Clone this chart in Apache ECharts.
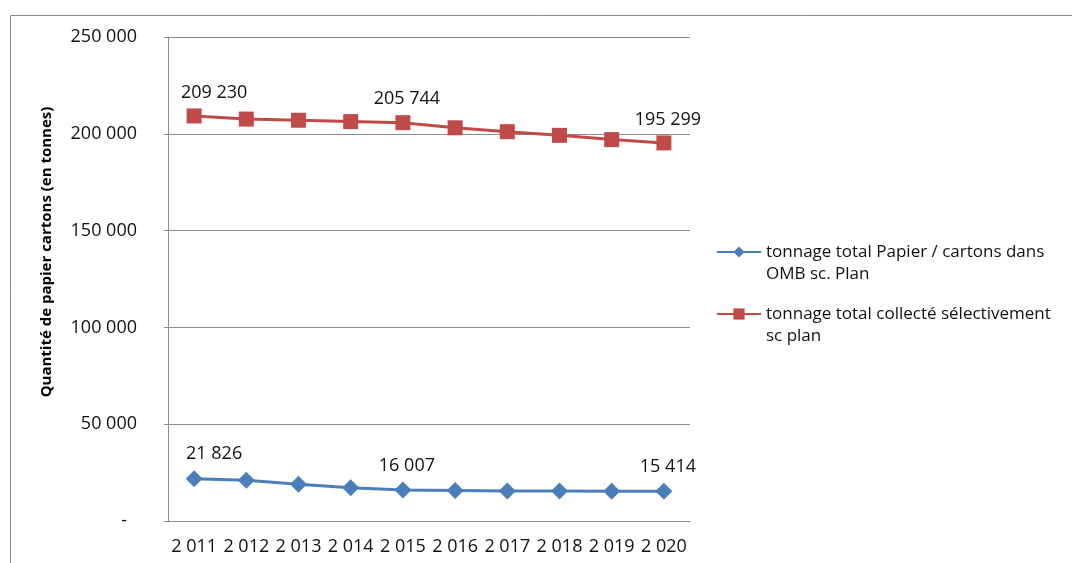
<!DOCTYPE html>
<html>
<head>
<meta charset="utf-8">
<script src="https://cdn.jsdelivr.net/npm/echarts@6/dist/echarts.min.js"></script>
<style>
  html, body { margin: 0; padding: 0; background: #fff; }
  #chart { width: 1072px; height: 563px; }
</style>
</head>
<body>
<div id="chart"></div>
<script>
// Years on the category axis (written with a thousands space, as in the source table)
const years = ['2 011', '2 012', '2 013', '2 014', '2 015', '2 016', '2 017', '2 018', '2 019', '2 020'];

// Paper / cardboard tonnage left in household waste (OMB)
const ombTonnage = [21826, 21100, 19000, 17200, 16007, 15800, 15500, 15450, 15430, 15414];

// Paper / cardboard tonnage collected selectively
const selectiveTonnage = [209230, 207600, 207000, 206300, 205744, 203100, 201100, 199200, 197000, 195299];

const seriesNames = [
  'tonnage total Papier / cartons dans OMB sc. Plan',
  'tonnage total collecté sélectivement sc plan'
];
// Legend text broken over two lines
const legendLines = [
  ['tonnage total Papier / cartons dans', 'OMB sc. Plan'],
  ['tonnage total collecté sélectivement', 'sc plan']
];

// Years whose value is written above the point, with a small horizontal nudge
const labelledIndex = [0, 4, 9];
const labelNudge = { 0: 20, 4: 4, 9: 4 };

const yAxisTitle = 'Quantité de papier cartons (en tonnes)';

const FONT = '"Open Sans", "Noto Sans", sans-serif';
const BLUE = '#4A7EBB';
const RED = '#BE4B48';
const TEXT = '#111';

function fmt(v) {
  return String(Math.round(v)).replace(/\B(?=(\d{3})+(?!\d))/g, ' ');
}

function buildData(values) {
  return values.map((v, i) => {
    if (labelledIndex.indexOf(i) < 0) return v;
    return {
      value: v,
      label: {
        show: true,
        position: 'top',
        distance: 7,
        offset: [labelNudge[i] || 0, 0],
        formatter: p => fmt(p.value),
        color: TEXT,
        fontFamily: FONT,
        fontSize: 18
      }
    };
  });
}

const chart = echarts.init(document.getElementById('chart'), null, { renderer: 'canvas' });

const legendBase = (name, lines, top) => ({
  orient: 'vertical',
  left: 711,
  top: top,
  itemWidth: 44,
  itemHeight: 14,
  itemGap: 0,
  selectedMode: false,
  data: [name],
  // leading blank line keeps the icon level with the first text line
  formatter: () => '\n' + lines[0] + '\n' + lines[1],
  textStyle: {
    color: TEXT,
    fontFamily: FONT,
    fontSize: 17,
    lineHeight: 22
  }
});

chart.setOption({
  animation: false,
  backgroundColor: '#fff',
  grid: { left: 168, top: 37, width: 522, height: 484, containLabel: false },
  legend: [
    legendBase(seriesNames[0], legendLines[0], 214),
    legendBase(seriesNames[1], legendLines[1], 276)
  ],
  xAxis: {
    type: 'category',
    data: years,
    boundaryGap: true,
    axisLine: { show: true, lineStyle: { color: '#8c8c8c', width: 1 } },
    axisTick: { show: false },
    axisLabel: { interval: 0, color: TEXT, fontFamily: FONT, fontSize: 18, margin: 17 },
    splitLine: { show: false }
  },
  yAxis: {
    type: 'value',
    min: 0,
    max: 250000,
    interval: 50000,
    axisLine: { show: true, lineStyle: { color: '#8c8c8c', width: 1 } },
    axisTick: { show: true, inside: false, length: 4, lineStyle: { color: '#8c8c8c' } },
    axisLabel: {
      color: TEXT,
      fontFamily: FONT,
      fontSize: 18,
      margin: 31,
      formatter: v => v === 0 ? '{dash|-}' : fmt(v),
      rich: { dash: { color: TEXT, fontFamily: FONT, fontSize: 18, padding: [0, 10, 0, 0] } }
    },
    splitLine: { show: true, lineStyle: { color: '#8c8c8c', width: 1 } }
  },
  graphic: [
    {
      // chart frame
      type: 'rect',
      shape: { x: 10.5, y: 15.5, width: 1200, height: 700 },
      style: { fill: 'none', stroke: '#8a8a8a', lineWidth: 1 },
      silent: true,
      z: -1
    },
    {
      type: 'text',
      x: 47,
      y: 252,
      rotation: Math.PI / 2,
      style: {
        text: yAxisTitle,
        fill: '#000',
        font: 'bold 15px ' + FONT,
        align: 'center',
        verticalAlign: 'middle'
      }
    }
  ],
  series: [
    {
      name: seriesNames[0],
      type: 'line',
      data: buildData(ombTonnage),
      symbol: 'diamond',
      symbolSize: 17,
      lineStyle: { color: BLUE, width: 3 },
      itemStyle: { color: BLUE },
      z: 3
    },
    {
      name: seriesNames[1],
      type: 'line',
      data: buildData(selectiveTonnage),
      symbol: 'rect',
      symbolSize: 15,
      lineStyle: { color: RED, width: 3 },
      itemStyle: { color: RED },
      z: 3
    }
  ]
});
</script>
</body>
</html>
